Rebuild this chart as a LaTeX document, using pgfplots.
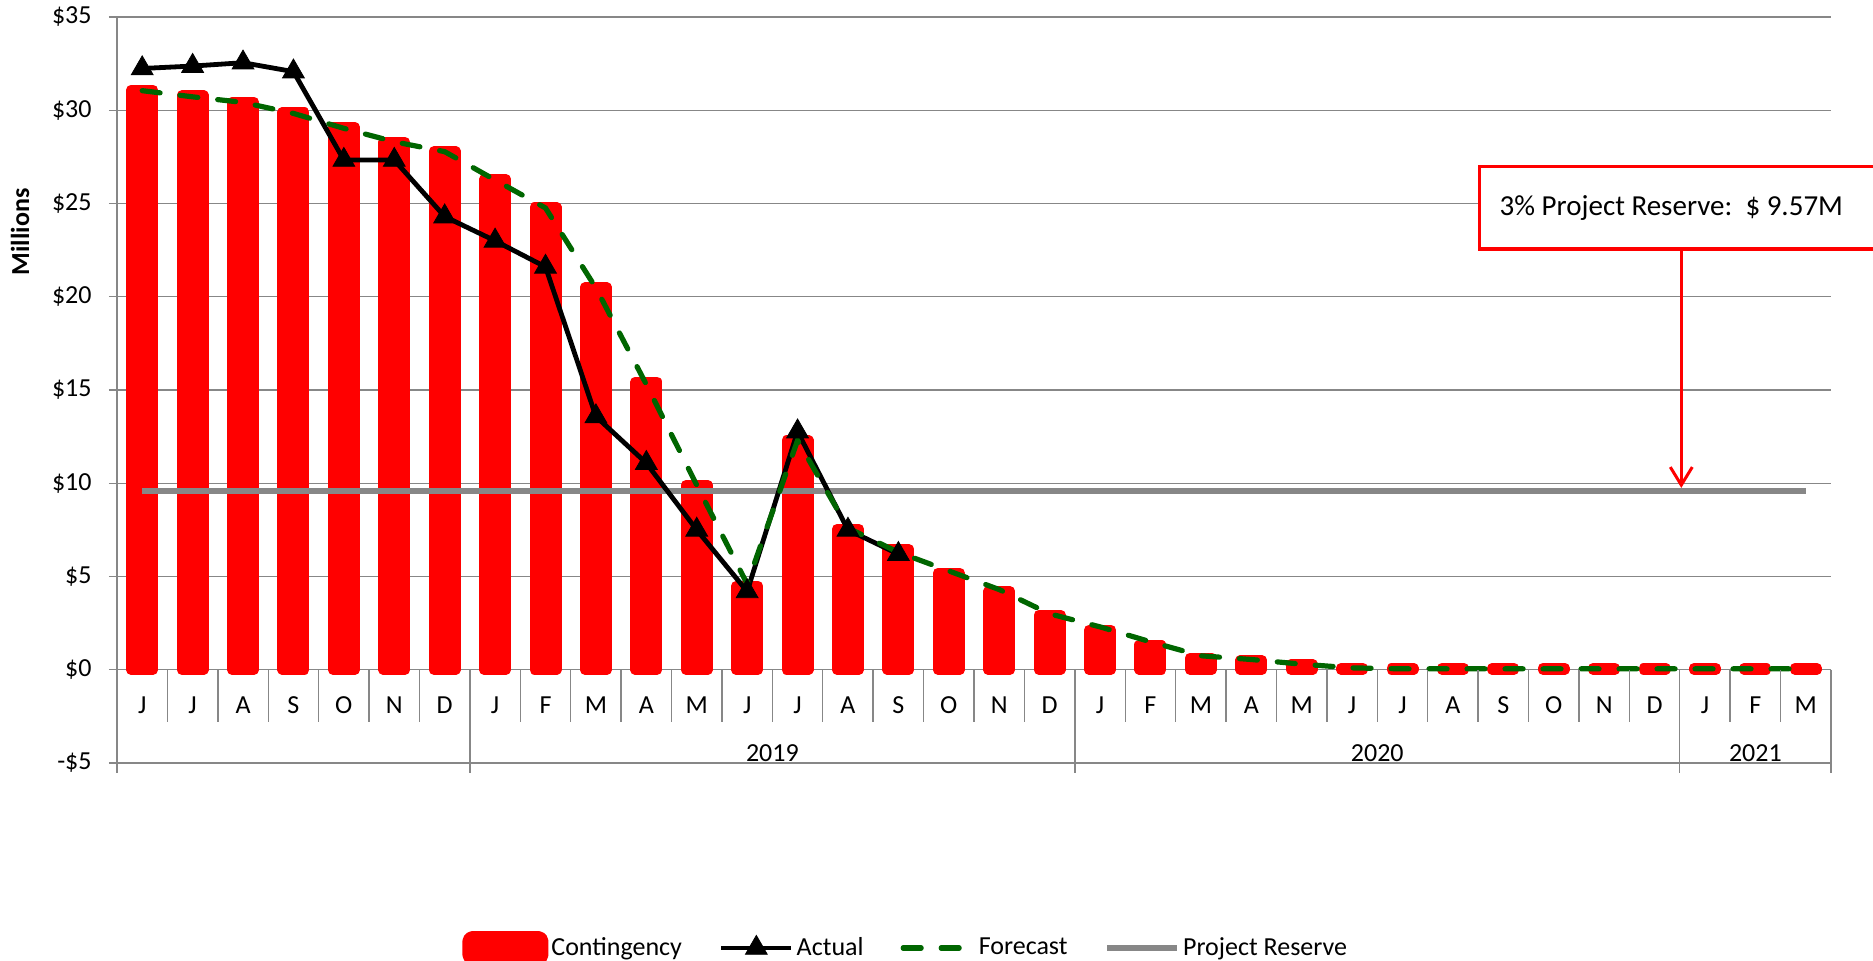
\documentclass[border=0pt]{standalone}
\usepackage{fontspec}
\setmainfont{Carlito}
\usepackage{pgfplots}
\usepackage{pgfplotstable}
\pgfplotsset{compat=1.18}
\usetikzlibrary{arrows.meta}
\definecolor{gridgray}{HTML}{878787}
\definecolor{fcgreen}{HTML}{006600}
\newcommand{\lblfont}{\fontsize{13}{15}\selectfont}

% month index, contingency, forecast
\pgfplotstableread{
x cont fc
0 31.10 31.05
1 30.80 30.72
2 30.45 30.42
3 29.90 29.83
4 29.10 29.03
5 28.30 28.31
6 27.80 27.78
7 26.30 26.26
8 24.80 24.76
9 20.50 20.47
10 15.45 15.30
11 9.90 9.90
12 4.50 4.60
13 12.30 12.30
14 7.55 7.60
15 6.45 6.30
16 5.20 5.30
17 4.20 4.30
18 2.95 3.00
19 2.15 2.30
20 1.35 1.50
21 0.65 0.75
22 0.50 0.55
23 0.30 0.30
24 0.10 0.10
25 0.10 0.05
26 0.10 0.05
27 0.10 0.05
28 0.10 0.05
29 0.10 0.05
30 0.10 0.05
31 0.10 0.05
32 0.10 0.05
33 0.10 0.05
}\maintable

\pgfplotstableread{
x act
0 32.24
1 32.37
2 32.55
3 32.07
4 27.33
5 27.33
6 24.30
7 23.00
8 21.60
9 13.58
10 11.08
11 7.50
12 4.20
13 12.77
14 7.50
15 6.20
}\acttable

\begin{document}
\begin{tikzpicture}
\path[use as bounding box] (-58.5pt,-98.5pt) rectangle (878pt,381.5pt);
\begin{axis}[
    at={(0pt,0pt)}, anchor=south west,
    scale only axis, width=857pt, height=373pt,
    xmin=-0.5, xmax=33.5, ymin=-5, ymax=35,
    clip=false,
    axis line style={draw=none},
    xtick={0,...,33},
    xticklabels={J,J,A,S,O,N,D,J,F,M,A,M,J,J,A,S,O,N,D,J,F,M,A,M,J,J,A,S,O,N,D,J,F,M},
    xtick pos=bottom, xtick style={draw=none},
    xticklabel style={anchor=base, inner sep=0pt, yshift=25pt},
    ytick={-5,0,5,10,15,20,25,30,35},
    yticklabels={-\$5,\$0,\$5,\$10,\$15,\$20,\$25,\$30,\$35},
    ytick pos=left, ytick align=outside, major tick length=4pt,
    ytick style={draw=gridgray, line width=0.7pt},
    yticklabel style={anchor=east, inner sep=0pt, xshift=-8.5pt},
    every tick label/.append style={font=\lblfont},
    ymajorgrids, grid style={draw=gridgray, line width=0.7pt},
    ylabel={Millions},
    every axis y label/.style={at={(axis description cs:-0.0566,0.712)}, rotate=90, anchor=center, font=\bfseries\lblfont},
    legend columns=4,
    legend style={at={(axis description cs:0.2013,-0.248)}, anchor=west, draw=none, fill=none, inner sep=0pt,
        font=\lblfont, nodes={inner sep=1.5pt},
        /tikz/every even column/.append style={column sep=17pt}},
    legend image code/.code={\draw[mark repeat=2, mark phase=2, #1] plot coordinates {(0pt,0pt) (17.5pt,0pt) (35pt,0pt)};},
]
\addplot[ybar, bar width=11pt, bar shift=0pt, fill=red, draw=red, line width=5pt, line join=round,
    legend image code/.code={\fill[red, rounded corners=2.5pt] (0pt,-6pt) rectangle (38pt,6pt);}]
    table[x=x, y=cont] {\maintable};
\addlegendentry{Contingency}
\addplot[gridgray, line width=2.8pt, forget plot] coordinates {(0,9.57) (33,9.57)};
\addplot[black, line width=2.4pt, mark=triangle*, mark size=6.3pt, mark options={solid, line width=0.4pt}]
    table[x=x, y=act] {\acttable};
\addlegendentry{Actual}
\addplot[fcgreen, line width=2.6pt, line cap=round, dash pattern=on 9pt off 10pt]
    table[x=x, y=fc] {\maintable};
\addlegendentry{Forecast}
\addlegendimage{gridgray, line width=2.8pt}
\addlegendentry{Project Reserve}

% category separators and year groups
\pgfplotsinvokeforeach{0,...,34}{\draw[gridgray, line width=0.7pt] (axis cs:#1-0.5,0) -- (axis cs:#1-0.5,-2.79);}
\pgfplotsinvokeforeach{-0.5,6.5,18.5,30.5,33.5}{\draw[gridgray, line width=0.7pt] (axis cs:#1,0) -- (axis cs:#1,-5.52);}
\draw[gridgray, line width=0.7pt] (axis cs:-0.5,35) -- (axis cs:-0.5,-5.52);
\node[anchor=base, inner sep=0pt, font=\lblfont] at (axis cs:12.5,-4.9) {2019};
\node[anchor=base, inner sep=0pt, font=\lblfont] at (axis cs:24.5,-4.9) {2020};
\node[anchor=base, inner sep=0pt, font=\lblfont] at (axis cs:32,-4.9) {2021};

% reserve annotation
\draw[red, line width=1.6pt, fill=white] (axis cs:26.53,27.0) rectangle (axis cs:40,22.56);
\node[anchor=west, inner sep=0pt, font=\fontsize{14.5}{17}\selectfont] at (axis cs:26.92,24.78) {3\% Project Reserve:~~\$~9.57M};
\draw[red, line width=1.5pt, -{Straight Barb[length=9pt, width=11pt, line width=1.5pt]}] (axis cs:30.53,22.56) -- (axis cs:30.53,9.75);
\end{axis}
\end{tikzpicture}
\end{document}
